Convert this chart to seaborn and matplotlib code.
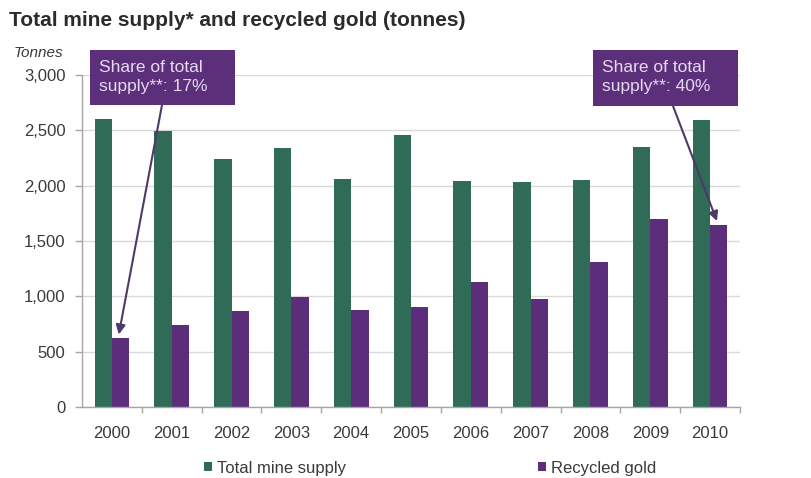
import matplotlib
matplotlib.use("Agg")
import matplotlib.pyplot as plt
from matplotlib.patches import Rectangle
from matplotlib.ticker import FuncFormatter, MultipleLocator
import seaborn as sns
import pandas as pd

# Annual gold supply, tonnes
years = ["2000", "2001", "2002", "2003", "2004", "2005",
         "2006", "2007", "2008", "2009", "2010"]
mine_supply = [2600, 2495, 2240, 2340, 2060, 2455, 2045, 2035, 2050, 2350, 2590]
recycled_gold = [620, 740, 865, 990, 880, 900, 1130, 975, 1310, 1695, 1645]
series_names = ["Total mine supply", "Recycled gold"]
share_labels = ["Share of total\nsupply**: 17%", "Share of total\nsupply**: 40%"]

GREEN = "#2F6B56"
PURPLE = "#5B2D7B"
BOX = "#5C2F7A"
BOX_TEXT = "#E6D9F2"
ARROW = "#4E3A68"
GRID = "#D9D9D9"
SPINE = "#A6A6A6"
TEXT = "#3A3A3A"

df = pd.DataFrame({
    "Year": years * 2,
    "Tonnes": mine_supply + recycled_gold,
    "Series": [series_names[0]] * len(years) + [series_names[1]] * len(years),
})

sns.set_theme(style="white")
plt.rcParams["font.family"] = ["Liberation Sans", "DejaVu Sans"]

W, H = 812, 478
fig = plt.figure(figsize=(W / 100, H / 100), dpi=100)
ax = fig.add_axes([82 / W, 1 - 407 / H, (740 - 82) / W, (407 - 75) / H])

sns.barplot(data=df, x="Year", y="Tonnes", hue="Series",
            palette=[GREEN, PURPLE], width=0.58, saturation=1,
            linewidth=0, ax=ax, legend=False)

ax.set_xlim(-0.5, len(years) - 0.5)
ax.set_ylim(0, 3000)
ax.yaxis.set_major_locator(MultipleLocator(500))
ax.yaxis.set_major_formatter(FuncFormatter(lambda v, _: f"{int(v):,}"))
ax.set_xlabel("")
ax.set_ylabel("")

ax.grid(axis="y", color=GRID, linewidth=1)
ax.set_axisbelow(True)
for side in ("top", "right"):
    ax.spines[side].set_visible(False)
for side in ("left", "bottom"):
    ax.spines[side].set_color(SPINE)
    ax.spines[side].set_linewidth(1)

ax.tick_params(axis="y", length=5, width=1, color=SPINE, pad=7,
               labelsize=12, labelcolor=TEXT, left=True)
ax.tick_params(axis="x", which="major", length=0, pad=14,
               labelsize=12, labelcolor=TEXT)
ax.set_xticks([i + 0.5 for i in range(len(years))], minor=True)
ax.tick_params(axis="x", which="minor", length=4, width=1,
               color=SPINE, bottom=True)

# Title and unit label
fig.text(9 / W, 1 - 20 / H, "Total mine supply* and recycled gold (tonnes)",
         fontsize=15, fontweight="bold", color="#2B2B2B",
         ha="left", va="center")
fig.text(63 / W, 1 - 53 / H, "Tonnes", fontsize=11, fontstyle="italic",
         color=TEXT, ha="right", va="center")

# Callout boxes pointing at the recycled-gold bars
bar_offset = 0.145
callouts = [
    # (box left, box top, box right, box bottom, arrow start x, year index, value)
    (90, 50, 235, 105, 162, 0, recycled_gold[0]),
    (593, 50, 738, 106, 673, 10, recycled_gold[10]),
]
for (x0, y0, x1, y1, ax_start, idx, val), label in zip(callouts, share_labels):
    fig.patches.append(Rectangle((x0 / W, 1 - y1 / H), (x1 - x0) / W,
                                 (y1 - y0) / H, transform=fig.transFigure,
                                 facecolor=BOX, edgecolor="none", zorder=5))
    fig.text((x0 + 9) / W, 1 - (y0 + 27) / H, label, fontsize=12.5,
             color=BOX_TEXT, ha="left", va="center", linespacing=1.3,
             zorder=6)
    ax.annotate("", xy=(idx + bar_offset - 0.03, val + 35),
                xycoords="data",
                xytext=(ax_start / W, 1 - y1 / H),
                textcoords="figure fraction",
                arrowprops=dict(arrowstyle="-|>", color=ARROW, lw=1.5,
                                mutation_scale=14, shrinkA=0, shrinkB=0),
                annotation_clip=False, zorder=6)

# Legend below the axis
handles = [Rectangle((0, 0), 1, 1, facecolor=c, edgecolor="none")
           for c in (GREEN, PURPLE)]
fig.legend(handles, series_names, loc="center", ncol=2,
           bbox_to_anchor=(430 / W, 1 - 468 / H), frameon=False,
           fontsize=12, handlelength=0.5, handleheight=0.5,
           handletextpad=0.3, columnspacing=11.5, labelcolor=TEXT,
           borderpad=0)

fig.savefig("out.png", dpi=100)
